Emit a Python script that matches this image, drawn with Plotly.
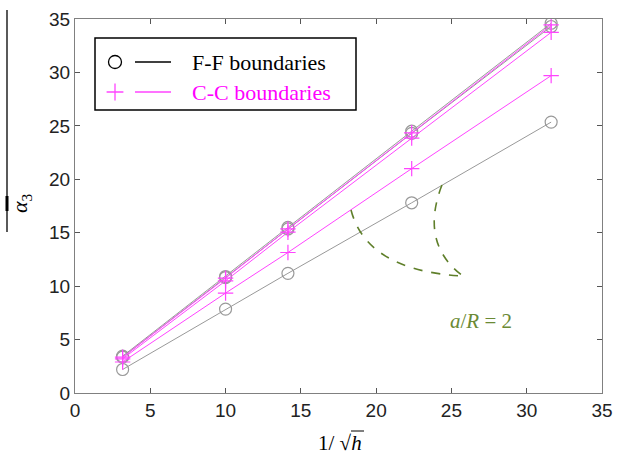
import numpy as np
import plotly.graph_objects as go

# data
x_vals = [3.162, 10.0, 14.142, 22.361, 31.623]   # 1/sqrt(h)
ff_a = [3.45, 10.9, 15.5, 24.5, 34.6]
ff_b = [3.35, 10.8, 15.35, 24.3, 34.3]
ff_c = [2.2, 7.85, 11.2, 17.8, 25.35]           # a/R = 2
cc_a = [3.35, 10.75, 15.35, 24.35, 34.45]
cc_b = [3.2, 10.5, 15.05, 23.85, 33.75]
cc_c = [2.9, 9.35, 13.15, 21.0, 29.7]            # a/R = 2
x_ticks = [0, 5, 10, 15, 20, 25, 30, 35]
y_ticks = [0, 5, 10, 15, 20, 25, 30, 35]

W, H = 617, 463
L, R, T, B = 75, 15, 19, 70
PW, PH = W - L - R, H - T - B

def px(x):
    return (x - L) / PW

def py(y):
    return (H - B - y) / PH

GREY = "#999999"
MAG = "#ff44ff"
GREEN = "#5f7f2a"

fig = go.Figure()
for ys in (ff_c, ff_b, ff_a):
    fig.add_trace(go.Scatter(x=x_vals, y=ys, mode="lines+markers",
                             line=dict(color=GREY, width=1),
                             marker=dict(symbol="circle-open", size=12, color=GREY, line=dict(width=1.2)),
                             showlegend=False))
for ys in (cc_c, cc_b, cc_a):
    fig.add_trace(go.Scatter(x=x_vals, y=ys, mode="lines+markers",
                             line=dict(color=MAG, width=1),
                             marker=dict(symbol="cross-thin-open", size=11, color=MAG, line=dict(width=1.2, color=MAG)),
                             showlegend=False))

# legend markers on overlay axes (paper-like 0..1)
fig.add_trace(go.Scatter(x=[px(115)], y=[py(62)], xaxis="x2", yaxis="y2", mode="markers",
                         marker=dict(symbol="circle-open", size=13, color="black", line=dict(width=1.3)),
                         showlegend=False, hoverinfo="skip"))
fig.add_trace(go.Scatter(x=[px(115)], y=[py(92)], xaxis="x2", yaxis="y2", mode="markers",
                         marker=dict(symbol="cross-thin-open", size=12, color=MAG, line=dict(width=1.3, color=MAG)),
                         showlegend=False, hoverinfo="skip"))

shapes = [
    # legend box
    dict(type="rect", xref="paper", yref="paper", x0=px(95), x1=px(356), y0=py(38), y1=py(110),
         line=dict(color="black", width=1.5), fillcolor="white", layer="below"),
    dict(type="line", xref="paper", yref="paper", x0=px(135), x1=px(171), y0=py(62), y1=py(62),
         line=dict(color="black", width=1.3)),
    dict(type="line", xref="paper", yref="paper", x0=px(135), x1=px(171), y0=py(92), y1=py(92),
         line=dict(color=MAG, width=1.3)),
    # dashed arcs
    dict(type="path", xref="x", yref="y", path="M 18.33,17.13 Q 19.39,11.42 25.76,10.95",
         line=dict(color=GREEN, width=1.6, dash="dash")),
    dict(type="path", xref="x", yref="y", path="M 24.37,19.46 Q 22.87,13.99 25.76,10.95",
         line=dict(color=GREEN, width=1.6, dash="dash")),
    # y label overbar
    dict(type="line", xref="paper", yref="paper", x0=px(7), x1=px(7), y0=py(10), y1=py(232),
         line=dict(color="black", width=1.3)),
    dict(type="line", xref="paper", yref="paper", x0=px(7), x1=px(7), y0=py(196), y1=py(211),
         line=dict(color="black", width=3)),
    # sqrt vinculum
    dict(type="line", xref="paper", yref="paper", x0=px(351), x1=px(364), y0=py(431), y1=py(431),
         line=dict(color="black", width=1)),
]

annotations = [
    dict(xref="paper", yref="paper", x=px(190), y=py(62), text="F-F boundaries", showarrow=False,
         xanchor="left", yanchor="middle", font=dict(family="Liberation Serif", size=22, color="black")),
    dict(xref="paper", yref="paper", x=px(190), y=py(92), text="C-C boundaries", showarrow=False,
         xanchor="left", yanchor="middle", font=dict(family="Liberation Serif", size=22, color="#ff00ff")),
    dict(xref="paper", yref="paper", x=px(481), y=py(321), text="<i>a</i>/<i>R</i> = 2", showarrow=False,
         xanchor="center", yanchor="middle", font=dict(family="Liberation Serif", size=21, color="#6b8a35")),
    dict(xref="paper", yref="paper", x=px(21), y=py(203), text="<i>α</i><sub>3</sub>", showarrow=False,
         textangle=-90, xanchor="center", yanchor="middle", font=dict(family="Liberation Serif", size=22, color="black")),
    dict(xref="paper", yref="paper", x=px(340), y=py(443), text="1/ √<i>h</i>", showarrow=False,
         xanchor="center", yanchor="middle", font=dict(family="Liberation Serif", size=21, color="black")),
]

axis_common = dict(showgrid=False, zeroline=False, showline=True, linecolor="#808080", linewidth=1,
                   mirror="ticks", ticks="inside", ticklen=5, tickcolor="#555555", automargin=False,
                   tickfont=dict(family="Liberation Sans", size=19, color="#222222"))

fig.update_layout(
    width=W, height=H, margin=dict(l=L, r=R, t=T, b=B, autoexpand=False),
    paper_bgcolor="white", plot_bgcolor="white",
    xaxis=dict(range=[0, 35], tickvals=x_ticks, **axis_common),
    yaxis=dict(range=[0, 35], tickvals=y_ticks, **axis_common),
    xaxis2=dict(range=[0, 1], overlaying="x", visible=False, fixedrange=True),
    yaxis2=dict(range=[0, 1], overlaying="y", visible=False, fixedrange=True),
    shapes=shapes, annotations=annotations, showlegend=False,
)

fig.write_html("out.html", config={"displayModeBar": False},
               post_script="document.body.style.margin='0';document.body.style.overflow='hidden';")
